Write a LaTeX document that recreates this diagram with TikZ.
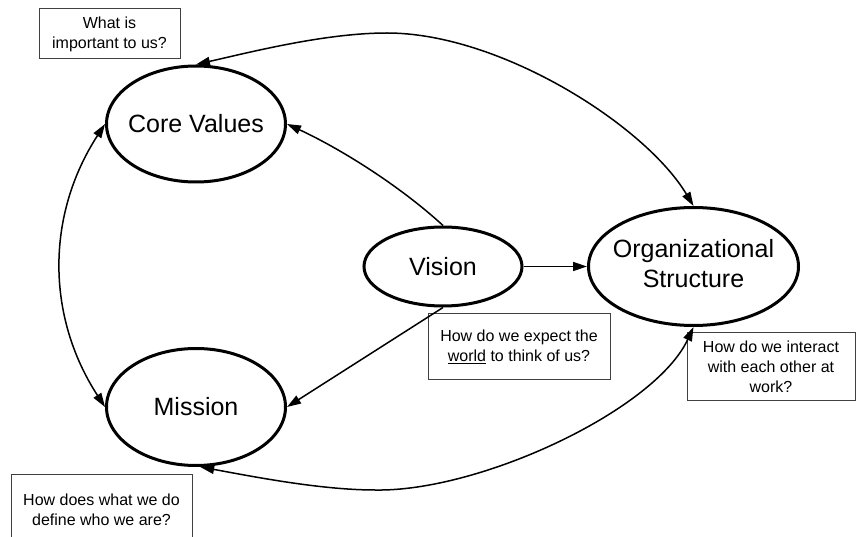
\documentclass[tikz,border=0pt]{standalone}
\usepackage{fontspec}
\setmainfont{Liberation Sans}
\usetikzlibrary{shapes.geometric,arrows.meta}
\begin{document}
\begin{tikzpicture}[x=1pt,y=-1pt,
  oval/.style={ellipse,draw,line width=3pt,inner sep=0pt,font=\fontsize{25}{30}\selectfont},
  note/.style={draw=black!75,line width=1pt,font=\fontsize{16}{20}\selectfont,align=center,inner sep=0pt},
  tip/.tip={Triangle[length=14pt,width=9pt]},
  link/.style={line width=1.5pt,-tip},
  both/.style={line width=1.5pt,tip-tip}]
\useasboundingbox (0,0) rectangle (857,537);
\clip (0,0) rectangle (857,537);
\fill[white] (0,0) rectangle (857,537);

\node[oval,minimum width=179pt,minimum height=116pt] (cv) at (196,124) {\makebox[0pt]{Core Values}};
\node[oval,minimum width=158pt,minimum height=79pt] (vs) at (443,266.5) {\makebox[0pt]{Vision}};
\node[oval,minimum width=210pt,minimum height=118pt] (os) at (693.5,266.5) {\makebox[0pt]{\raisebox{-3pt}{\begin{tabular}{@{}c@{}}Organizational\\Structure\end{tabular}}}};
\node[oval,minimum width=179pt,minimum height=117pt] (ms) at (196,407) {\makebox[0pt]{Mission}};

\node[note,minimum width=141pt,minimum height=50pt] (n1) at (109.5,34) {What is\\important to us?};
\node[note,minimum width=182pt,minimum height=65pt] (n2) at (519,346.5) {How do we expect the\\\underline{world} to think of us?};
\node[note,minimum width=168pt,minimum height=67pt] (n3) at (771,366.5) {How do we interact\\with each other at\\work?};
\node[note,minimum width=181pt,anchor=north,inner ysep=19pt,text depth=60pt] (n4) at (101.5,474) {How does what we do\\define who we are?};

\draw[both] (cv.north) .. controls (255,51) and (327,33) .. (387,33) .. controls (500,33) and (645,125) .. (os.north);
\draw[both] (cv.west) .. controls (46,215) and (46,316) .. (ms.west);
\draw[both] (ms.-86) .. controls (250,476) and (320,490) .. (375,490) .. controls (480,492) and (655,410) .. (os.south);
\draw[link] (vs.north) .. controls (400,186) and (341,149) .. (cv.east);
\draw[link] (vs.south) -- (ms.east);
\draw[link] (vs.east) -- (os.west);
\end{tikzpicture}
\end{document}
